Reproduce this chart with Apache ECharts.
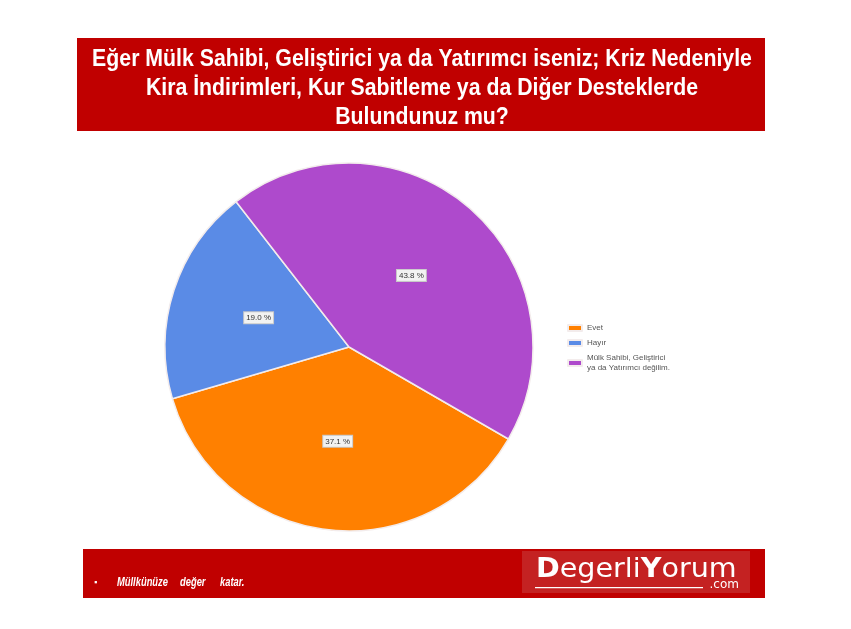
<!DOCTYPE html>
<html>
<head>
<meta charset="utf-8">
<script src="https://cdn.jsdelivr.net/npm/echarts@6/dist/echarts.min.js"></script>
<style>html,body{margin:0;padding:0;background:#fff;}#c{width:851px;height:629px;}</style>
</head>
<body>
<div id="c"></div>
<script>
const categories = ['Evet', 'Hayır', 'Mülk Sahibi, Geliştirici\nya da Yatırımcı değilim.'];
const values = [37.1, 19.0, 43.8];
const colors = ['#FF8000', '#5A8BE6', '#AE4ACC'];
const titleLines = [
  'Eğer Mülk Sahibi, Geliştirici ya da Yatırımcı iseniz; Kriz Nedeniyle',
  'Kira İndirimleri, Kur Sabitleme ya da Diğer Desteklerde',
  'Bulundunuz mu?'
];
const footerWords = ['Müllkünüze', 'değer', 'katar.'];

const chart = echarts.init(document.getElementById('c'), null, {renderer: 'canvas'});
const titleFont = '"Liberation Sans", sans-serif';
const graphics = [
  {type: 'rect', shape: {x: 77, y: 38, width: 688, height: 93}, style: {fill: '#C00000'}, z: 0},
  {type: 'rect', shape: {x: 83, y: 549, width: 682, height: 49}, style: {fill: '#C00000'}, z: 0},
  {type: 'rect', shape: {x: 522, y: 551, width: 228, height: 42}, style: {fill: '#C42222'}, z: 1},
  {type: 'text', x: 94, y: 583, style: {text: '▪', fill: '#fff', font: '9px sans-serif', textVerticalAlign: 'middle'}, z: 2},
  {type: 'rect', shape: {x: 535, y: 587, width: 168, height: 1.2}, style: {fill: '#fff'}, z: 2},
  {type: 'text', x: 739, y: 585, style: {text: '.com', fill: '#fff', font: '12px "DejaVu Sans", sans-serif', textAlign: 'right', textVerticalAlign: 'middle'}, z: 2},
  {type: 'text', x: 536, y: 570, scaleX: 1.1, style: {
    text: '{b|D}{n|egerli}{b|Y}{n|orum}',
    textVerticalAlign: 'middle',
    rich: {
      b: {fill: '#fff', fontSize: 26, fontWeight: 'bold', fontFamily: '"DejaVu Sans", sans-serif'},
      n: {fill: '#fff', fontSize: 26, fontFamily: '"DejaVu Sans", sans-serif'}
    }
  }, z: 2}
];
const lineY = [60, 89, 118];
titleLines.forEach((t, i) => {
  graphics.push({type: 'text', x: 422, y: lineY[i], scaleX: 0.925, style: {text: t, fill: '#fff', font: 'bold 23px ' + titleFont, textAlign: 'center', textVerticalAlign: 'middle'}, z: 2});
});
const wordX = [117, 180, 220];
footerWords.forEach((w, i) => {
  graphics.push({type: 'text', x: wordX[i], y: 583, scaleX: 0.78, style: {text: w, fill: '#fff', font: 'italic bold 12px ' + titleFont, textVerticalAlign: 'middle'}, z: 2});
});

chart.setOption({
  animation: false,
  backgroundColor: '#fff',
  color: colors,
  graphic: graphics,
  legend: {
    orient: 'vertical',
    left: 562,
    top: 318,
    itemWidth: 14,
    itemHeight: 6,
    itemGap: 5,
    icon: 'rect',
    data: categories,
    textStyle: {fontSize: 8, color: '#555', fontFamily: 'sans-serif', lineHeight: 10}
  },
  series: [{
    type: 'pie',
    center: [349, 347],
    radius: [0, 184],
    startAngle: -30,
    clockwise: true,
    data: categories.map((c, i) => ({name: c, value: values[i]})),
    itemStyle: {borderColor: '#f3ecec', borderWidth: 1.5},
    label: {
      position: 'inside',
      formatter: p => p.value.toFixed(1) + ' %',
      fontSize: 8,
      color: '#333',
      backgroundColor: '#f2f2f2',
      borderColor: '#c8c8c8',
      borderWidth: 1,
      padding: [2, 2, 1, 2],
      fontFamily: 'sans-serif'
    },
    labelLine: {show: false},
    emphasis: {disabled: true}
  }]
});
</script>
</body>
</html>
